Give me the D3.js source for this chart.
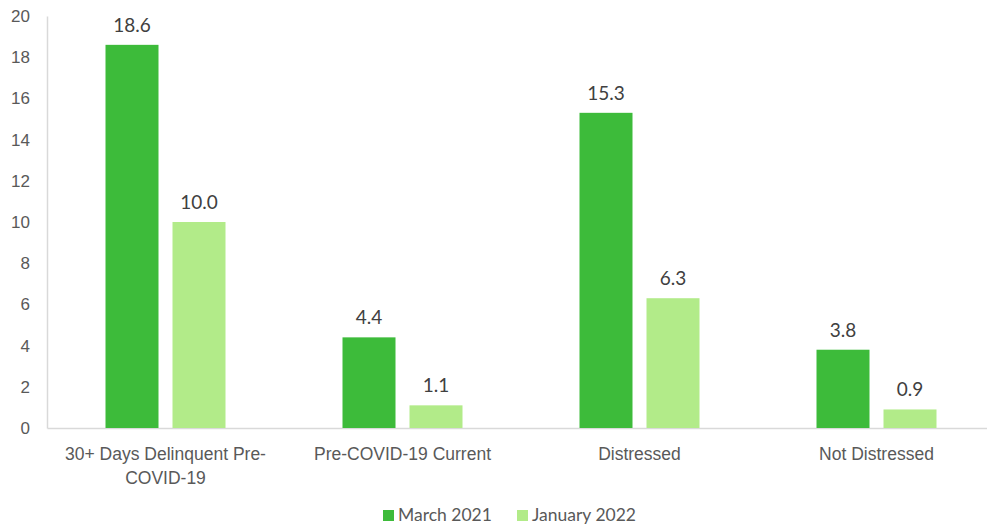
<!DOCTYPE html>
<html>
<head>
<meta charset="utf-8">
<script src="https://cdn.jsdelivr.net/npm/d3@7/dist/d3.min.js"></script>
<style>
  html, body { margin: 0; padding: 0; background: #fff; }
  svg { display: block; font-family: Lato, "Open Sans", sans-serif; }
</style>
</head>
<body>
<svg id="chart" width="987" height="531"></svg>
<script>
// Share of borrowers by group, two survey dates
const categories = ["30+ Days Delinquent Pre-COVID-19", "Pre-COVID-19 Current", "Distressed", "Not Distressed"];
const seriesNames = ["March 2021", "January 2022"];
const march2021 = [18.6, 4.4, 15.3, 3.8];
const january2022 = [10.0, 1.1, 6.3, 0.9];
const yTicks = [0, 2, 4, 6, 8, 10, 12, 14, 16, 18, 20];
const colors = ["#3dbb3a", "#b2eb89"];

const svg = d3.select("#chart");
const W = 987, H = 531;
const margin = { top: 16, left: 47, bottom: 103 };
const bandStep = 237;
const plotW = bandStep * categories.length;
const plotH = H - margin.top - margin.bottom;

const g = svg.append("g").attr("transform", `translate(${margin.left},${margin.top})`);

const x = d3.scaleBand().domain(categories).range([0, plotW]).padding(0);
const y = d3.scaleLinear().domain([0, 20]).range([plotH, 0]);

const barW = 53, gap = 14;
const sub = d3.scaleOrdinal().domain(seriesNames).range([-gap / 2 - barW, gap / 2]);

const textColor = "#595959";

// Axes
const yAxis = d3.axisLeft(y).tickValues(yTicks).tickSize(0).tickPadding(17);
g.append("g").call(yAxis)
  .call(a => a.select(".domain").attr("stroke", "#d9d9d9").attr("stroke-width", 1.5))
  .call(a => a.selectAll("text").attr("fill", textColor).attr("font-size", 17));

const xAxis = d3.axisBottom(x).tickSize(0).tickPadding(0);
const xg = g.append("g").attr("transform", `translate(0,${plotH})`).call(xAxis);
xg.select(".domain").attr("stroke", "#d9d9d9").attr("stroke-width", 1.5);
xg.selectAll("text").remove();

// Category labels, wrapped to the band width
const lineH = 24;
xg.selectAll(".cat").data(categories).join("text")
  .attr("class", "cat")
  .attr("x", d => x(d) + x.bandwidth() / 2)
  .attr("y", 32)
  .attr("text-anchor", "middle")
  .attr("fill", textColor)
  .attr("font-size", 17.5)
  .each(function (d) {
    const el = d3.select(this);
    const tokens = d.match(/[^\s-]+-?/g);
    const maxW = 220;
    let lines = [], cur = "";
    const tmp = el.append("tspan");
    tokens.forEach(t => {
      const joiner = (cur === "" || cur.endsWith("-")) ? "" : " ";
      const cand = cur + joiner + t;
      tmp.text(cand);
      if (tmp.node().getComputedTextLength() > maxW && cur !== "") {
        lines.push(cur);
        cur = t;
      } else {
        cur = cand;
      }
    });
    lines.push(cur);
    tmp.remove();
    lines.forEach((l, i) => {
      el.append("tspan")
        .attr("x", x(d) + x.bandwidth() / 2)
        .attr("dy", i === 0 ? 0 : lineH)
        .text(l);
    });
  });

// Bars and value labels
const series = [march2021, january2022];
series.forEach((vals, si) => {
  const name = seriesNames[si];
  const data = categories.map((c, i) => ({ c, v: vals[i] }));
  g.selectAll(".bar" + si).data(data).join("rect")
    .attr("x", d => x(d.c) + x.bandwidth() / 2 + sub(name))
    .attr("y", d => y(d.v))
    .attr("width", barW)
    .attr("height", d => y(0) - y(d.v))
    .attr("fill", colors[si]);
  g.selectAll(".lab" + si).data(data).join("text")
    .attr("x", d => x(d.c) + x.bandwidth() / 2 + sub(name) + barW / 2)
    .attr("y", d => y(d.v) - 13)
    .attr("text-anchor", "middle")
    .attr("fill", "#404040")
    .attr("font-size", 19)
    .text(d => d.v.toFixed(1));
});

// Legend
const legend = svg.append("g").attr("transform", `translate(383, 521)`);
const legX = [0, 134];
seriesNames.forEach((n, i) => {
  const item = legend.append("g").attr("transform", `translate(${legX[i]},0)`);
  item.append("rect").attr("x", 0).attr("y", -11).attr("width", 11).attr("height", 11).attr("fill", colors[i]);
  item.append("text").attr("x", 15).attr("y", 0).attr("fill", textColor).attr("font-size", 17.5).text(n);
});
</script>
</body>
</html>
